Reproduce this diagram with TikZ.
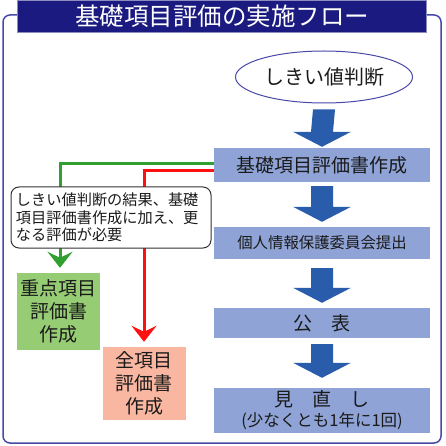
\documentclass[tikz,border=0pt]{standalone}
\usepackage{fontspec}
\setmainfont{Noto Sans CJK JP}
\usetikzlibrary{shapes.geometric,calc,arrows.meta}
\definecolor{navy}{HTML}{1A1A80}
\definecolor{framec}{HTML}{4848A8}
\definecolor{arrowblue}{HTML}{2A5CAC}
\definecolor{boxblue}{HTML}{8FA3D6}
\definecolor{greenc}{HTML}{30A030}
\definecolor{greenbox}{HTML}{96CC74}
\definecolor{redc}{HTML}{FF1010}
\definecolor{pinkbox}{HTML}{F9B6A0}
\definecolor{txt}{HTML}{1A1A1A}
\newcommand\blockarrow[4]{%
  \fill[arrowblue] ($(#1.south)+(-11,#3)$) -- ($(#1.south)+(11,#3)$)
    -- ($(#2.north)+(11,-#4-15)$) -- ($(#2.north)+(29,-#4-15)$)
    -- ($(#2.north)+(0,-#4)$) -- ($(#2.north)+(-29,-#4-15)$)
    -- ($(#2.north)+(-11,-#4-15)$) -- cycle;}
\begin{document}
\begin{tikzpicture}[x=1pt,y=-1pt,
  stepbox/.style={fill=boxblue,draw=none,minimum width=216pt,text=txt,inner sep=0pt},
  sidebox/.style={draw=none,minimum width=83pt,inner sep=0pt,text=txt,align=center,
     font=\fontsize{19pt}{23pt}\selectfont},
  conn/.style={line width=3pt},
  tip/.style={-{Stealth[length=16pt,width=25pt,inset=6pt]}}]
\useasboundingbox (0,0) rectangle (445,446);
% frame
\draw[framec,line width=1.5pt,rounded corners=7pt] (3,15) rectangle (441,443);
% title
\node[fill=navy,draw=navy!50!white,line width=0.8pt,minimum width=409pt,minimum height=32pt,
  inner sep=0pt,text=white,font=\fontsize{24.5pt}{26pt}\selectfont] (title) at (222,16) {基礎項目評価の実施フロー};
% ellipse
\node[ellipse,draw=framec,line width=1pt,fill=white,minimum width=177pt,minimum height=52pt,
  inner sep=0pt,text=txt,font=\fontsize{20pt}{22pt}\selectfont] (thr) at (324,77) {しきい値判断};
% steps
\node[stepbox,minimum height=34pt,font=\fontsize{19pt}{21pt}\selectfont] (b1) at (322,165) {基礎項目評価書作成};
\node[stepbox,minimum height=32pt,font=\fontsize{15.4pt}{17pt}\selectfont] (b2) at (322,243) {個人情報保護委員会提出};
\node[stepbox,minimum height=30pt,font=\fontsize{19pt}{21pt}\selectfont] (b3) at (322,323) {公　表};
\node[stepbox,minimum height=45pt,align=center,font=\fontsize{16.5pt}{22pt}\selectfont] (b4) at (322,410.5)
  {{\fontsize{19pt}{22pt}\selectfont 見　直　し}\\[-2pt](少なくとも1年に1回)};
% block arrows
\blockarrow{thr}{b1}{6}{1}
\blockarrow{b1}{b2}{4}{5}
\blockarrow{b2}{b3}{9}{5}
\blockarrow{b3}{b4}{6}{10}
% side boxes
\node[sidebox,fill=greenbox,minimum height=77pt] (gb) at (58.5,311.5) {重点項目\\評価書\\作成};
\node[sidebox,fill=pinkbox,minimum height=73pt] (pb) at (144,383.5) {全項目\\評価書\\作成};
% connectors
\draw[conn,greenc,tip] ([yshift=1pt]b1.west) -| ([xshift=1.5pt,yshift=5pt]gb.north);
\draw[conn,redc,tip] ([yshift=-6pt]b1.west) -| ([yshift=5pt]pb.north);
% callout
\node[draw=black!80,line width=1pt,fill=white,rounded corners=8pt,minimum width=198pt,minimum height=61pt,
  inner sep=5pt,text width=190pt,align=left,text=txt,font=\fontsize{15.2pt}{17.5pt}\selectfont] (note) at (111,217.5)
  {しきい値判断の結果、基礎\\項目評価書作成に加え、更\\なる評価が必要};
\end{tikzpicture}
\end{document}
